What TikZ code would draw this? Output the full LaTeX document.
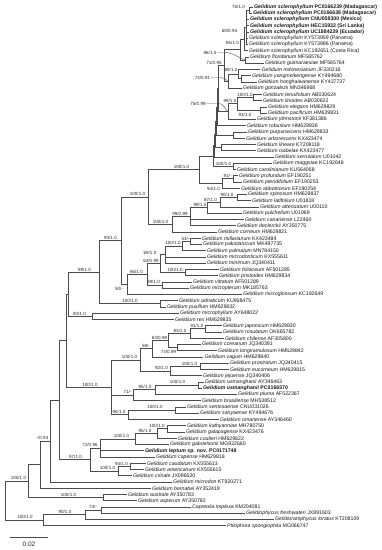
\documentclass[tikz,border=0pt]{standalone}
\usepackage{fontspec}
\setmainfont{Liberation Sans}
\usetikzlibrary{calc}
\tikzset{
 br/.style={line width=0.85pt,draw=black!70},
 lead/.style={line width=0.45pt,draw=black!65},
 lab/.style={anchor=west,inner sep=0pt,font=\fontsize{5.2}{6}\selectfont,text=black!90},
 bsv/.style={inner sep=0pt,font=\fontsize{4.5}{5}\selectfont,text=black!85},
}
\newcommand\leaf[4]{%
 \coordinate (#1) at (#3,{7+(#2-1)*6.25});
 \node[lab] (t#1) at ([xshift=1.5pt]#1) {#4};}
\newcommand\inode[4]{%
 \coordinate (m#1) at ($(#3)!0.5!(#4)$);
 \coordinate (x#1) at (#2,0);
 \coordinate (#1) at (x#1 |- m#1);}
\newcommand\kids[2]{\foreach \c in {#2}{\draw[br] (#1) |- (\c);}}
\newcommand\bsr[4]{%
 \path (#2) ++(0,-2.9) coordinate (y#1);
 \coordinate (x#1) at (#3,0);
 \node[bsv] (#1) at (x#1 |- y#1) {#4};}
\newcommand\bsl[4]{\node[bsv] (#1) at (#2,#3) {#4};}
\newcommand\gi[1]{\textit{#1}}
\begin{document}
\begin{tikzpicture}[x=1pt,y=-1pt]
\useasboundingbox (0,0) rectangle (382,550);
\fill[white] (0,0) rectangle (382,550);
% leaves
\leaf{l1}{1}{252.5}{\textbf{\gi{Gelidium sclerophyllum} PC0166239 (Madagascar)}}
\leaf{l2}{2}{251.5}{\textbf{\gi{Gelidium sclerophyllum} PC0166638 (Madagascar)}}
\leaf{l3}{3}{248.5}{\textbf{\gi{Gelidium sclerophyllum} CNU058300 (Mexico)}}
\leaf{l4}{4}{248.5}{\textbf{\gi{Gelidium sclerophyllum} HEC15932 (Sri Lanka)}}
\leaf{l5}{5}{248.5}{\textbf{\gi{Gelidium sclerophyllum} UC1884229 (Ecuador)}}
\leaf{l6}{6}{247.5}{\gi{Gelidium sclerophyllum} KY573959 (Panama)}
\leaf{l7}{7}{247.5}{\gi{Gelidium sclerophyllum} KY573996 (Panama)}
\leaf{l8}{8}{247.5}{\gi{Gelidium sclerophyllum} KC192651 (Costa Rica)}
\leaf{l9}{9}{248.5}{\gi{Gelidium floridanum} MF565762}
\leaf{l10}{10}{263.5}{\gi{Gelidium guimaraesiae} MF565764}
\leaf{l11}{11}{260}{\gi{Gelidium indonesianum} JF330216}
\leaf{l12}{12}{250.5}{\gi{Gelidium yangmeikengense} KY494680}
\leaf{l13}{13}{256.5}{\gi{Gelidium honghaiwanense} KY437737}
\leaf{l14}{14}{241.5}{\gi{Gelidium gonzalezii} MN346968}
\leaf{l15}{15}{261.5}{\gi{Gelidium tenuifolium} AB030624}
\leaf{l16}{16}{261.5}{\gi{Gelidium linoides} AB030622}
\leaf{l17}{17}{266.5}{\gi{Gelidium elegans} HM629829}
\leaf{l18}{18}{266.5}{\gi{Gelidium pacificum} HM629831}
\leaf{l19}{19}{255.5}{\gi{Gelidium johnstonii} KF381386}
\leaf{l20}{20}{245.5}{\gi{Gelidium robustum} HM629836}
\leaf{l21}{21}{246.5}{\gi{Gelidium purpurascens} HM629833}
\leaf{l22}{22}{244.5}{\gi{Gelidium arborescens} KX423474}
\leaf{l23}{23}{255.5}{\gi{Gelidium lineare} KT208118}
\leaf{l24}{24}{255.5}{\gi{Gelidium isabelae} KX423477}
\leaf{l25}{25}{273.5}{\gi{Gelidium serrulatum} U01042}
\leaf{l26}{26}{271.5}{\gi{Gelidium maggsiae} KC192648}
\leaf{l27}{27}{235.5}{\gi{Gelidium carolinianum} KU564068}
\leaf{l28}{28}{237.5}{\gi{Gelidium profundum} EF190251}
\leaf{l29}{29}{241.5}{\gi{Gelidium pteridifolium} EF190253}
\leaf{l30}{30}{239.5}{\gi{Gelidium abbottiorum} EF190254}
\leaf{l31}{31}{246.5}{\gi{Gelidium spinosum} HM629837}
\leaf{l32}{32}{250.5}{\gi{Gelidium latifolium} U01818}
\leaf{l33}{33}{258.5}{\gi{Gelidium attenuatum} U00110}
\leaf{l34}{34}{241.5}{\gi{Gelidium pulchellum} U01969}
\leaf{l35}{35}{243.5}{\gi{Gelidium canariense} L22460}
\leaf{l36}{36}{235.5}{\gi{Gelidium declerckii} AY350775}
\leaf{l37}{37}{216.5}{\gi{Gelidium corneum} HM629821}
\leaf{l38}{38}{200.5}{\gi{Gelidium millarianum} KX423484}
\leaf{l39}{39}{201.5}{\gi{Gelidium pakistanicum} MK497735}
\leaf{l40}{40}{205.5}{\gi{Gelidium palmatum} MN784150}
\leaf{l41}{41}{205.5}{\gi{Gelidium microdonticum} KX555611}
\leaf{l42}{42}{205.5}{\gi{Gelidium minimum} JQ340411}
\leaf{l43}{43}{218.5}{\gi{Gelidium foliaceum} AF501285}
\leaf{l44}{44}{217.5}{\gi{Gelidium pristoides} HM629834}
\leaf{l45}{45}{191.5}{\gi{Gelidium vittatum} AF501289}
\leaf{l46}{46}{188.5}{\gi{Gelidium micropterum} MK185763}
\leaf{l47}{47}{241.5}{\gi{Gelidium microglossum} KC192649}
\leaf{l48}{48}{177.5}{\gi{Gelidium adriaticum} KU958475}
\leaf{l49}{49}{165.5}{\gi{Gelidium pusillum} HM629832}
\leaf{l50}{50}{178.5}{\gi{Gelidium microphyllum} AY648022}
\leaf{l51}{51}{173.5}{\gi{Gelidium rex} HM629835}
\leaf{l52}{52}{221.5}{\gi{Gelidium japonicum} HM629830}
\leaf{l53}{53}{221.5}{\gi{Gelidium rosulatum} OK665782}
\leaf{l54}{54}{223.5}{\gi{Gelidium chilense} AF305800}
\leaf{l55}{55}{200.5}{\gi{Gelidium coreanum} JQ340391}
\leaf{l56}{56}{216.5}{\gi{Gelidium longiramulosum} HM629842}
\leaf{l57}{57}{203}{\gi{Gelidium vagum} HM629840}
\leaf{l58}{58}{228.5}{\gi{Gelidium prostratum} JQ340415}
\leaf{l59}{59}{228.5}{\gi{Gelidium eucorneum} HM629815}
\leaf{l60}{60}{201.5}{\gi{Gelidium jejuense} JQ340406}
\leaf{l61}{61}{203.5}{\gi{Gelidium usmanghanii} AY346463}
\leaf{l62}{62}{201.5}{\textbf{\gi{Gelidium usmanghanii} PC0166570}}
\leaf{l63}{63}{236.5}{\gi{Gelidium pluma} AF522367}
\leaf{l64}{64}{200.5}{\gi{Gelidium brasiliense} MH538512}
\leaf{l65}{65}{185.5}{\gi{Gelidium sentosaense} CNU031026}
\leaf{l66}{66}{198.5}{\gi{Gelidium sanyaense} KY494676}
\leaf{l67}{67}{218.5}{\gi{Gelidium omanense} AY346460}
\leaf{l68}{68}{185.5}{\gi{Gelidium kathyanniae} MH780750}
\leaf{l69}{69}{184.5}{\gi{Gelidium galapagense} KX423476}
\leaf{l70}{70}{176.5}{\gi{Gelidium coulteri} HM629822}
\leaf{l71}{71}{168.5}{\gi{Gelidium gabrielsonii} MG922660}
\leaf{l72}{72}{143.5}{\textbf{\gi{Gelidium leptum} sp. nov. PC0171748}}
\leaf{l73}{73}{154.5}{\gi{Gelidium capense} HM629818}
\leaf{l74}{74}{145.5}{\gi{Gelidium caudatum} KX555613}
\leaf{l75}{75}{143.5}{\gi{Gelidium americanum} KX555615}
\leaf{l76}{76}{131.5}{\gi{Gelidium crinale} JX096520}
\leaf{l77}{77}{171.5}{\gi{Gelidium microdon} KT920271}
\leaf{l78}{78}{150.5}{\gi{Gelidium bernabei} AY352419}
\leaf{l79}{79}{126.5}{\gi{Gelidium australe} AY350783}
\leaf{l80}{80}{136.5}{\gi{Gelidium asperum} AY350782}
\leaf{l81}{81}{190.5}{\gi{Capreolia implexa} KM204081}
\leaf{l82}{82}{244.5}{\gi{Gelidiophycus freshwateri} JX891603}
\leaf{l83}{83}{273.5}{\gi{Gelidioramphycus loratus} KT208109}
\leaf{l84}{84}{225.5}{\gi{Ptilophora spongiophila} MG066747}
% internal nodes
\inode{N76}{249}{l1}{l2}
\inode{N60}{246}{N76}{l7}
\inode{Nsc}{244}{N60}{l8}
\inode{Nfg}{245.5}{l9}{l10}
\inode{N96}{240}{Nsc}{Nfg}
\inode{Nyh}{241}{l12}{l13}
\inode{N89}{238}{l11}{Nyh}
\inode{N74}{228}{N89}{l14}
\inode{N71}{224}{N96}{N74}
\inode{N100t}{253}{l15}{l16}
\inode{N93}{260}{l17}{l18}
\inode{N99}{237}{N100t}{N93}
\inode{N75}{228}{N99}{l19}
\inode{NAB}{218}{N71}{N75}
\inode{Nc}{217}{NAB}{l20}
\inode{Npa}{233}{l21}{l22}
\inode{Nd}{216}{Nc}{Npa}
\inode{Nli}{221.5}{l23}{l24}
\inode{Ne}{215}{Nd}{Nli}
\inode{Nf}{214}{Ne}{l25}
\inode{N100c}{233}{l26}{l27}
\inode{Ng}{213}{Nf}{N100c}
\inode{N91}{233}{l28}{l29}
\inode{N94}{222}{N91}{l30}
\inode{N199}{199}{Ng}{N94}
\inode{N90}{237}{l31}{l32}
\inode{N87}{220}{N90}{l33}
\inode{N99b}{207}{N87}{l34}
\inode{N190}{190}{N99b}{l36}
\inode{N172}{172}{N190}{l37}
\inode{N148}{148}{N199}{N172}
\inode{N53}{190}{l38}{l39}
\inode{N100e}{182}{N53}{l40}
\inode{N69}{165}{N100e}{l42}
\inode{N100f}{185}{l43}{l44}
\inode{N63}{160}{N69}{N100f}
\inode{N99d}{162}{l45}{l46}
\inode{N86}{147}{N63}{N99d}
\inode{N50}{127}{N86}{l47}
\inode{N123}{121}{N148}{N50}
\inode{N100g}{160}{l48}{l49}
\inode{N99e}{99}{N123}{N100g}
\inode{N80}{92}{l50}{l51}
\inode{N68}{68}{N99e}{N80}
\inode{N91b}{205}{l52}{l53}
\inode{N83}{190}{N91b}{l54}
\inode{N73}{177}{l55}{l56}
\inode{N63b}{168}{N83}{N73}
\inode{N58}{152}{N63b}{l57}
\inode{N100h}{200}{l58}{l59}
\inode{N92}{170}{N100h}{l60}
\inode{N100i}{140}{N58}{N92}
\inode{N100j}{198}{l61}{l62}
\inode{N95}{155}{N100j}{l63}
\inode{N71b}{133}{N95}{l64}
\inode{N100k}{175}{l65}{l66}
\inode{N96b}{128}{N100k}{l67}
\inode{N100m}{111}{N100i}{N96b}
\inode{N67}{66}{N68}{N100m}
\inode{N100n}{167}{l68}{l69}
\inode{N95c}{157}{N100n}{l70}
\inode{N100o}{135}{N95c}{l71}
\inode{N71c}{100}{N100o}{l73}
\inode{N94c}{130}{l74}{l75}
\inode{N100p}{118}{N94c}{l76}
\inode{N97}{90}{N71c}{N100p}
\inode{N59}{59}{N67}{N97}
\inode{N50b}{50}{N59}{l77}
\inode{N40}{40}{N50b}{l78}
\inode{N100q}{103}{l79}{l80}
\inode{N28}{28}{N40}{N100q}
\inode{N73b}{101}{l81}{l82}
\inode{N90b}{85}{N73b}{l83}
\inode{N100r}{43}{N90b}{l84}
\inode{N5}{5}{N28}{N100r}
% branches
\kids{N76}{l1,l2}
\kids{N60}{N76,l3,l4,l5,l6,l7}
\kids{Nsc}{N60,l8}
\kids{Nfg}{l9,l10}
\kids{N96}{Nsc,Nfg}
\kids{Nyh}{l12,l13}
\kids{N89}{l11,Nyh}
\kids{N74}{N89,l14}
\kids{N71}{N96,N74}
\kids{N100t}{l15,l16}
\kids{N93}{l17,l18}
\kids{N99}{N100t,N93}
\kids{N75}{N99,l19}
\kids{NAB}{N71,N75}
\kids{Nc}{NAB,l20}
\kids{Npa}{l21,l22}
\kids{Nd}{Nc,Npa}
\kids{Nli}{l23,l24}
\kids{Ne}{Nd,Nli}
\kids{Nf}{Ne,l25}
\kids{N100c}{l26,l27}
\kids{Ng}{Nf,N100c}
\kids{N91}{l28,l29}
\kids{N94}{N91,l30}
\kids{N199}{Ng,N94}
\kids{N90}{l31,l32}
\kids{N87}{N90,l33}
\kids{N99b}{N87,l34}
\kids{N190}{N99b,l35,l36}
\kids{N172}{N190,l37}
\kids{N148}{N199,N172}
\kids{N53}{l38,l39}
\kids{N100e}{N53,l40}
\kids{N69}{N100e,l41,l42}
\kids{N100f}{l43,l44}
\kids{N63}{N69,N100f}
\kids{N99d}{l45,l46}
\kids{N86}{N63,N99d}
\kids{N50}{N86,l47}
\kids{N123}{N148,N50}
\kids{N100g}{l48,l49}
\kids{N99e}{N123,N100g}
\kids{N80}{l50,l51}
\kids{N68}{N99e,N80}
\kids{N91b}{l52,l53}
\kids{N83}{N91b,l54}
\kids{N73}{l55,l56}
\kids{N63b}{N83,N73}
\kids{N58}{N63b,l57}
\kids{N100h}{l58,l59}
\kids{N92}{N100h,l60}
\kids{N100i}{N58,N92}
\kids{N100j}{l61,l62}
\kids{N95}{N100j,l63}
\kids{N71b}{N95,l64}
\kids{N100k}{l65,l66}
\kids{N96b}{N100k,l67}
\kids{N100m}{N100i,N71b,N96b}
\kids{N67}{N68,N100m}
\kids{N100n}{l68,l69}
\kids{N95c}{N100n,l70}
\kids{N100o}{N95c,l71}
\kids{N71c}{N100o,l72,l73}
\kids{N94c}{l74,l75}
\kids{N100p}{N94c,l76}
\kids{N97}{N71c,N100p}
\kids{N59}{N67,N97}
\kids{N50b}{N59,l77}
\kids{N40}{N50b,l78}
\kids{N100q}{l79,l80}
\kids{N28}{N40,N100q}
\kids{N73b}{l81,l82}
\kids{N90b}{N73b,l83}
\kids{N100r}{N90b,l84}
\kids{N5}{N28,N100r}
% support values
\bsl{bN76}{238.5}{7}{76/1.0}
\bsl{bN60}{229.5}{31}{60/0.94}
\bsl{bNsc}{232.5}{43}{85/1.0}
\bsl{bN96}{210}{52.5}{96/1.0}
\bsl{bN71}{214}{62.5}{71/0.95}
\bsl{bN89}{231}{70}{89/1.0}
\bsl{bN74}{202.5}{77.5}{74/0.91}
\bsr{bN100t}{N100t}{245}{100/1.0}
\bsr{bN99}{N99}{230}{99/1.0}
\bsl{bN93}{245}{114.5}{93/1.0}
\bsl{bN75}{198}{103.5}{75/0.99}
\bsr{bN100c}{N100c}{223.5}{100/1.0}
\bsr{bN91}{N91}{227.5}{91/-}
\bsl{bN94}{213.5}{189}{94/1.0}
\bsr{bN199}{N199}{181.5}{100/1.0}
\bsr{bN148}{N148}{137.5}{100/1.0}
\bsr{bN90}{N90}{227}{90/1.0}
\bsr{bN87}{N87}{210.5}{87/1.0}
\bsr{bN99b}{N99b}{200}{99/1.0}
\bsr{bN190}{N190}{180}{99/0.99}
\bsr{bN172}{N172}{160.5}{100/1.0}
\bsr{bN123}{N123}{110.5}{93/1.0}
\bsr{bN53}{N53}{185.5}{53/-}
\bsr{bN100e}{N100e}{173}{100/1.0}
\bsl{bN69}{150}{253}{69/1.0}
\bsr{bN63}{N63}{151}{63/0.99}
\bsr{bN100f}{N100f}{175}{100/1.0}
\bsr{bN86}{N86}{136.5}{86/1.0}
\bsr{bN99d}{N99d}{153.5}{99/1.0}
\bsl{bN50}{119}{288.5}{50/-}
\bsr{bN99e}{N99e}{84.5}{99/1.0}
\bsr{bN100g}{N100g}{130}{100/1.0}
\bsr{bN80}{N80}{79.5}{80/1.0}
\bsr{bN91b}{N91b}{197}{91/1.0}
\bsr{bN83}{N83}{180}{83/1.0}
\bsr{bN63b}{N63b}{159.5}{63/0.98}
\bsr{bN58}{N58}{146}{58/-}
\bsl{bN73}{168.5}{351.5}{73/0.99}
\bsr{bN100h}{N100h}{189.5}{100/1.0}
\bsr{bN92}{N92}{161.5}{92/1.0}
\bsr{bN100i}{N100i}{129.5}{100/1.0}
\bsr{bN100j}{N100j}{177.5}{100/1.0}
\bsr{bN95}{N95}{145}{95/1.0}
\bsr{bN71b}{N71b}{127.5}{71/-}
\bsr{bN100k}{N100k}{155}{100/1.0}
\bsr{bN96b}{N96b}{119}{96/1.0}
\bsr{bN100m}{N100m}{90}{100/1.0}
\bsr{bN100n}{N100n}{157}{100/1.0}
\bsr{bN95c}{N95c}{145}{95/1.0}
\bsr{bN100o}{N100o}{121.5}{100/1.0}
\bsr{bN71c}{N71c}{90}{71/0.96}
\bsr{bN94c}{N94c}{121.5}{94/1.0}
\bsr{bN100p}{N100p}{107.5}{100/1.0}
\bsr{bN97}{N97}{75.5}{97/1.0}
\bsr{bN50b}{N50b}{42.5}{-/0.94}
\bsr{bN28}{N28}{18.5}{100/1.0}
\bsr{bN100q}{N100q}{68.5}{100/1.0}
\bsr{bN73b}{N73b}{93}{73/-}
\bsr{bN90b}{N90b}{65}{90/1.0}
\bsr{bN100r}{N100r}{25}{100/1.0}
% leader lines
\draw[lead] (bN96.east) ++(1,0) -- ++(7,0) to[out=0,in=160] (Nfg);
\draw[lead] (bN74.east) ++(1,0) -- ++(9,0) to[out=0,in=135] (N74);
\draw[lead] (bN75.east) ++(1,0) -- ++(12,0) to[out=0,in=135] (N75);
% scale bar
\coordinate (sb1) at (10,537);
\coordinate (sb2) at (48,537);
\draw[br] (sb1) -- (sb2);
\node[bsv,font=\fontsize{6.5}{7}\selectfont] (sbl) at (29,544) {0.02};
\end{tikzpicture}
\end{document}
